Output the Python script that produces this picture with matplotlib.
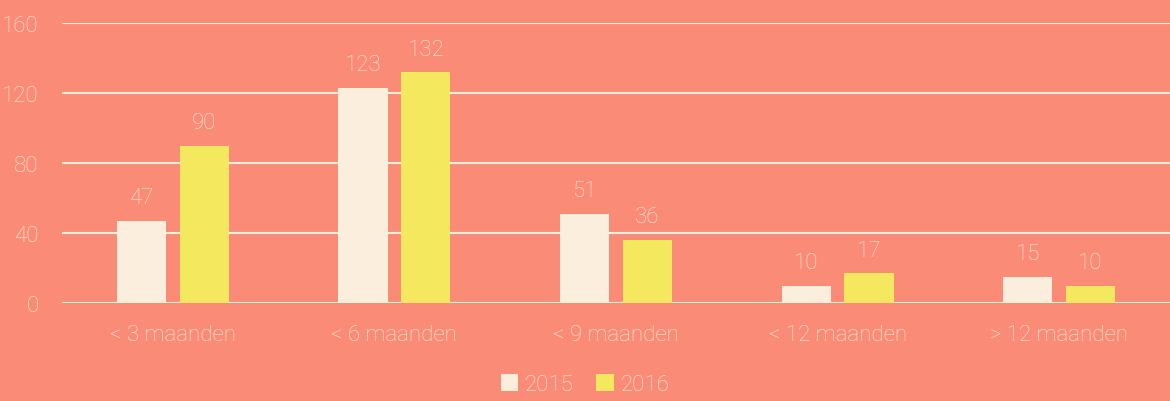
import numpy as np
import matplotlib.pyplot as plt

categories = ["< 3 maanden", "< 6 maanden", "< 9 maanden", "< 12 maanden", "> 12 maanden"]
values_2015 = [47, 123, 51, 10, 15]
values_2016 = [90, 132, 36, 17, 10]
series_labels = ["2015", "2016"]
y_ticks = [0, 40, 80, 120, 160]

bg = "#FA8B77"
cream = "#FCEEDC"
yellow = "#F4E95E"

plt.rcParams["font.family"] = ["Roboto", "DejaVu Sans"]

fig = plt.figure(figsize=(11.7, 4.02), dpi=100, facecolor=bg)
ax = fig.add_axes([62 / 1170, 1 - 304 / 402, 1108 / 1170, 280 / 402], facecolor=bg)

x = np.arange(len(categories))
w = 0.222
off = 0.142
b1 = ax.bar(x - off, values_2015, w, color=cream, label=series_labels[0], zorder=3)
b2 = ax.bar(x + off, values_2016, w, color=yellow, label=series_labels[1], zorder=3)

for bars in (b1, b2):
    for rect in bars:
        h = rect.get_height()
        ax.annotate(str(int(h)), (rect.get_x() + rect.get_width() / 2, h),
                    xytext=(0, 9), textcoords="offset points", ha="center", va="bottom",
                    color=cream, fontsize=16, fontweight="light")

ax.set_xlim(-0.5, len(categories) - 0.5)
ax.set_ylim(0, 160)
ax.set_yticks(y_ticks)
ax.set_xticks(x)
ax.set_xticklabels(categories)
ax.yaxis.grid(True, color=cream, linewidth=1.5, zorder=0)
ax.set_axisbelow(True)
for s in ax.spines.values():
    s.set_visible(False)
ax.tick_params(axis="both", length=0, colors=cream, labelsize=16)
ax.tick_params(axis="y", pad=17)
ax.tick_params(axis="x", pad=15)
for lab in ax.get_xticklabels() + ax.get_yticklabels():
    lab.set_fontweight("light")

leg = fig.legend(loc="lower center", bbox_to_anchor=(0.5, -0.035), ncol=2, frameon=False,
                 handlelength=0.8, handleheight=0.8, handletextpad=0.3, columnspacing=1.0,
                 prop={"size": 16, "weight": "light"})
for t in leg.get_texts():
    t.set_color(cream)

fig.savefig("out.png", dpi=100, facecolor=bg)
